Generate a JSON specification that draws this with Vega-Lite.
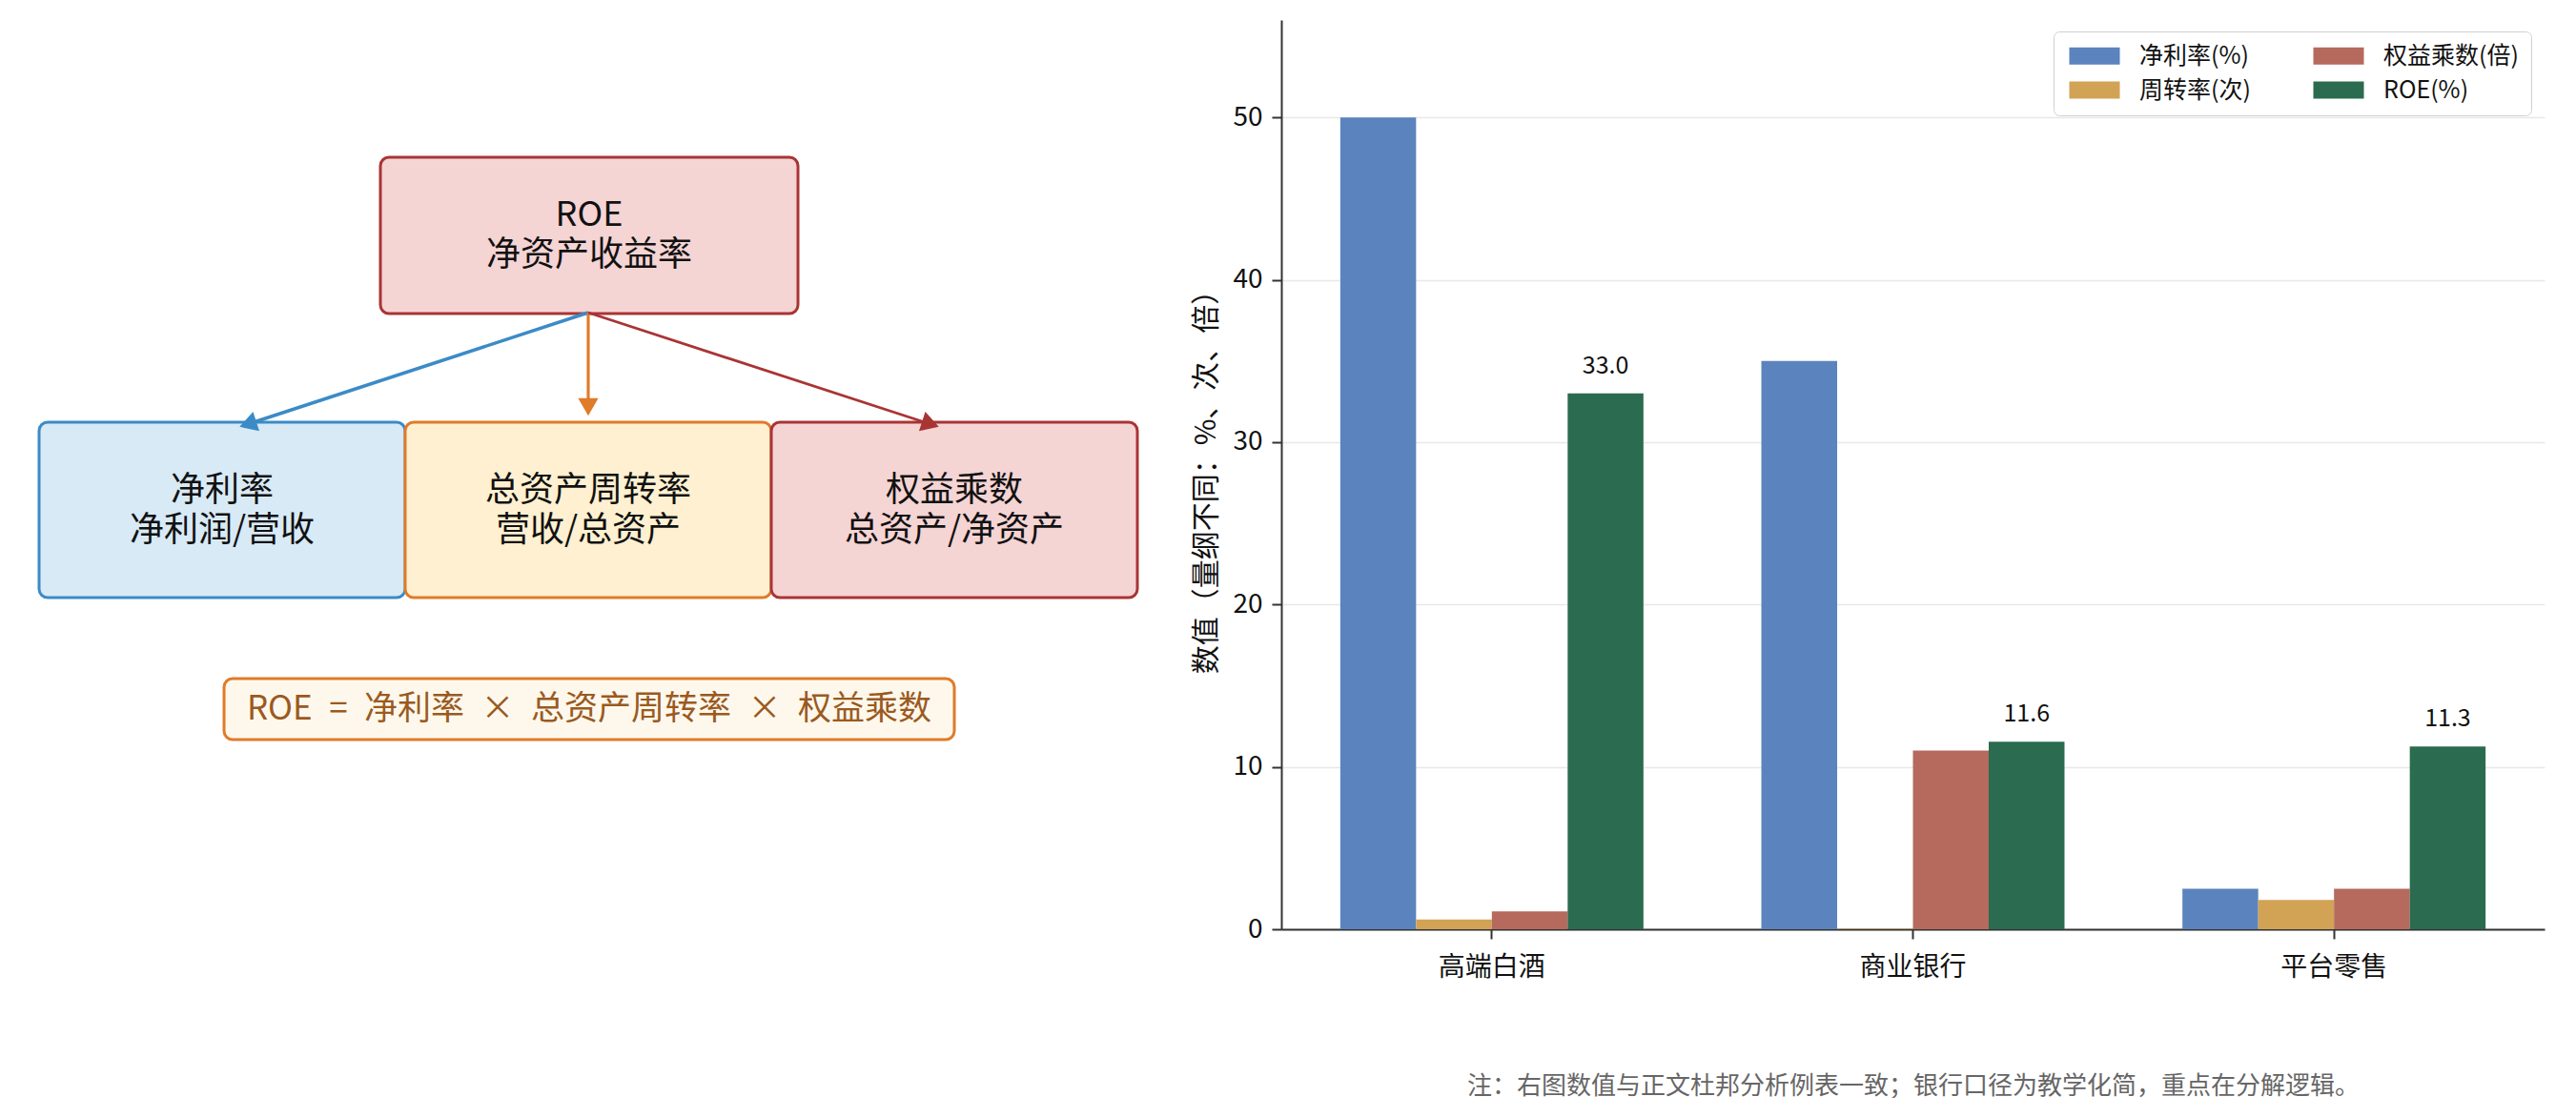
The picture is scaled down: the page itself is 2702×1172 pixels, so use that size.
{
  "$schema": "https://vega.github.io/schema/vega-lite/v6.json",
  "background": "white",
  "padding": {"left": 0, "top": 21, "right": 31, "bottom": 0},
  "config": {
    "view": {"stroke": null},
    "font": "Noto Sans CJK SC",
    "concat": {"spacing": 20}
  },
  "resolve": {
    "scale": {"color": "independent", "fill": "independent", "stroke": "independent", "strokeWidth": "independent"},
    "legend": {"color": "independent", "fill": "independent", "stroke": "independent"}
  },
  "datasets": {
    "boxes": [
      {"role": "ROE", "x": 3.99, "x2": 8.37, "y": 6.46, "y2": 8.10},
      {"role": "净利率", "x": 0.41, "x2": 4.25, "y": 3.48, "y2": 5.32},
      {"role": "周转率", "x": 4.25, "x2": 8.09, "y": 3.48, "y2": 5.32},
      {"role": "权益乘数", "x": 8.09, "x2": 11.93, "y": 3.48, "y2": 5.32},
      {"role": "公式", "x": 2.35, "x2": 10.01, "y": 1.99, "y2": 2.63}
    ],
    "labels": [
      {"role": "ROE", "cx": 6.18, "cy": 7.49, "label": "ROE\n净资产收益率"},
      {"role": "净利率", "cx": 2.33, "cy": 4.60, "label": "净利率\n净利润/营收"},
      {"role": "周转率", "cx": 6.17, "cy": 4.60, "label": "总资产周转率\n营收/总资产"},
      {"role": "权益乘数", "cx": 10.01, "cy": 4.60, "label": "权益乘数\n总资产/净资产"},
      {"role": "公式", "cx": 6.18, "cy": 2.31, "label": "ROE\u2002=\u2002净利率\u2002×\u2002总资产周转率\u2002×\u2002权益乘数"}
    ],
    "arrows": [
      {"role": "净利率", "x": 6.17, "y": 6.47, "x2": 2.60, "y2": 5.30, "angle": 252},
      {"role": "周转率", "x": 6.17, "y": 6.47, "x2": 6.17, "y2": 5.48, "angle": 180},
      {"role": "权益乘数", "x": 6.17, "y": 6.47, "x2": 9.76, "y2": 5.30, "angle": 108}
    ],
    "bars": [
      {"company": "高端白酒", "metric": "净利率(%)", "value": 50},
      {"company": "高端白酒", "metric": "周转率(次)", "value": 0.6},
      {"company": "高端白酒", "metric": "权益乘数(倍)", "value": 1.1},
      {"company": "高端白酒", "metric": "ROE(%)", "value": 33.0},
      {"company": "商业银行", "metric": "净利率(%)", "value": 35},
      {"company": "商业银行", "metric": "周转率(次)", "value": 0.03},
      {"company": "商业银行", "metric": "权益乘数(倍)", "value": 11},
      {"company": "商业银行", "metric": "ROE(%)", "value": 11.55},
      {"company": "平台零售", "metric": "净利率(%)", "value": 2.5},
      {"company": "平台零售", "metric": "周转率(次)", "value": 1.8},
      {"company": "平台零售", "metric": "权益乘数(倍)", "value": 2.5},
      {"company": "平台零售", "metric": "ROE(%)", "value": 11.25}
    ]
  },
  "hconcat": [
    {
      "width": 1230,
      "height": 954,
      "layer": [
        {
          "data": {"name": "boxes"},
          "mark": {"type": "rect", "cornerRadius": 9, "strokeWidth": 3},
          "encoding": {
            "x": {"field": "x", "type": "quantitative", "scale": {"domain": [0, 12.3], "nice": false, "zero": false}, "axis": null},
            "x2": {"field": "x2"},
            "y": {"field": "y", "type": "quantitative", "scale": {"domain": [0, 9.54], "nice": false, "zero": false}, "axis": null},
            "y2": {"field": "y2"},
            "fill": {"field": "role", "type": "nominal", "legend": null,
              "scale": {"domain": ["ROE", "净利率", "周转率", "权益乘数", "公式"], "range": ["#f5d4d4", "#d8eaf6", "#fef0d0", "#f5d4d4", "#fef8ec"]}},
            "stroke": {"field": "role", "type": "nominal", "legend": null,
              "scale": {"domain": ["ROE", "净利率", "周转率", "权益乘数", "公式"], "range": ["#a93434", "#3b8bc6", "#e07b2a", "#a93434", "#e07b2a"]}}
          }
        },
        {
          "data": {"name": "arrows"},
          "mark": {"type": "rule"},
          "encoding": {
            "x": {"field": "x", "type": "quantitative"},
            "y": {"field": "y", "type": "quantitative"},
            "x2": {"field": "x2"},
            "y2": {"field": "y2"},
            "color": {"field": "role", "type": "nominal", "legend": null,
              "scale": {"domain": ["净利率", "周转率", "权益乘数"], "range": ["#3b8bc6", "#e07b2a", "#a93434"]}},
            "strokeWidth": {"field": "role", "type": "nominal", "legend": null,
              "scale": {"domain": ["净利率", "周转率", "权益乘数"], "range": [3.5, 2.8, 3.5]}}
          }
        },
        {
          "data": {"name": "arrows"},
          "mark": {"type": "point", "shape": "triangle-up", "filled": true, "size": 450, "opacity": 1},
          "encoding": {
            "x": {"field": "x2", "type": "quantitative"},
            "y": {"field": "y2", "type": "quantitative"},
            "angle": {"field": "angle", "type": "quantitative", "scale": null},
            "color": {"field": "role", "type": "nominal", "legend": null,
              "scale": {"domain": ["净利率", "周转率", "权益乘数"], "range": ["#3b8bc6", "#e07b2a", "#a93434"]}}
          }
        },
        {
          "data": {"name": "labels"},
          "transform": [{"filter": "datum.role !== '公式'"}],
          "mark": {"type": "text", "fontSize": 36, "lineBreak": "\n", "lineHeight": 42, "baseline": "middle", "align": "center", "color": "#111111"},
          "encoding": {
            "x": {"field": "cx", "type": "quantitative"},
            "y": {"field": "cy", "type": "quantitative"},
            "text": {"field": "label"}
          }
        },
        {
          "data": {"name": "labels"},
          "transform": [{"filter": "datum.role === '公式'"}],
          "mark": {"type": "text", "fontSize": 35, "baseline": "middle", "align": "center", "color": "#9a5a1f"},
          "encoding": {
            "x": {"field": "cx", "type": "quantitative"},
            "y": {"field": "cy", "type": "quantitative"},
            "text": {"field": "label"}
          }
        }
      ]
    },
    {
      "width": 1325,
      "height": 954,
      "data": {"name": "bars"},
      "encoding": {
        "x": {"field": "company", "type": "nominal", "sort": ["高端白酒", "商业银行", "平台零售"],
          "scale": {"paddingInner": 0, "paddingOuter": 0},
          "axis": {"labelAngle": 0, "labelFontSize": 28, "labelColor": "#111111", "labelPadding": 16,
            "tickSize": 10, "tickWidth": 2, "tickColor": "#333333", "domainColor": "#333333", "domainWidth": 2,
            "title": "注：右图数值与正文杜邦分析例表一致；银行口径为教学化简，重点在分解逻辑。",
            "titleFontSize": 26, "titleFontWeight": "normal", "titleColor": "#666666", "titlePadding": 97, "titleLimit": 1400}},
        "xOffset": {"field": "metric", "type": "nominal", "sort": ["净利率(%)", "周转率(次)", "权益乘数(倍)", "ROE(%)"],
          "scale": {"paddingInner": 0, "paddingOuter": 0.778}},
        "y": {"field": "value", "type": "quantitative",
          "scale": {"domain": [0, 56], "nice": false},
          "axis": {"values": [0, 10, 20, 30, 40, 50], "labelFontSize": 28, "labelColor": "#111111", "labelPadding": 10,
            "tickSize": 10, "tickWidth": 2, "tickColor": "#333333", "domainColor": "#333333", "domainWidth": 2,
            "grid": true, "gridColor": "#e8e8e8", "gridWidth": 1.5,
            "title": "数值（量纲不同：%、次、倍）", "titleFontSize": 30, "titleFontWeight": "normal", "titleColor": "#111111", "titlePadding": 12}}
      },
      "layer": [
        {
          "mark": {"type": "bar"},
          "encoding": {
            "color": {"field": "metric", "type": "nominal",
              "scale": {"domain": ["净利率(%)", "周转率(次)", "权益乘数(倍)", "ROE(%)"], "range": ["#5b83be", "#d2a255", "#b56a5d", "#2b6b4f"]},
              "legend": {"title": null, "orient": "none", "legendX": 810, "legendY": 12, "columns": 2,
                "symbolType": "M-1,-1H4.89V1H-1Z", "symbolSize": 324, "symbolStrokeWidth": 0, "symbolOpacity": 1,
                "labelFontSize": 25, "labelColor": "#111111", "labelOffset": 52, "labelLimit": 400,
                "rowPadding": 10, "columnPadding": 62, "padding": 13,
                "strokeColor": "#d0d0d0", "cornerRadius": 6, "fillColor": "#ffffff"}}
          }
        },
        {
          "transform": [{"filter": "datum.metric === 'ROE(%)'"}],
          "mark": {"type": "text", "fontSize": 25, "baseline": "middle", "dy": -29, "color": "#111111"},
          "encoding": {
            "text": {"field": "value", "type": "quantitative", "format": ".1f"}
          }
        }
      ]
    }
  ]
}
